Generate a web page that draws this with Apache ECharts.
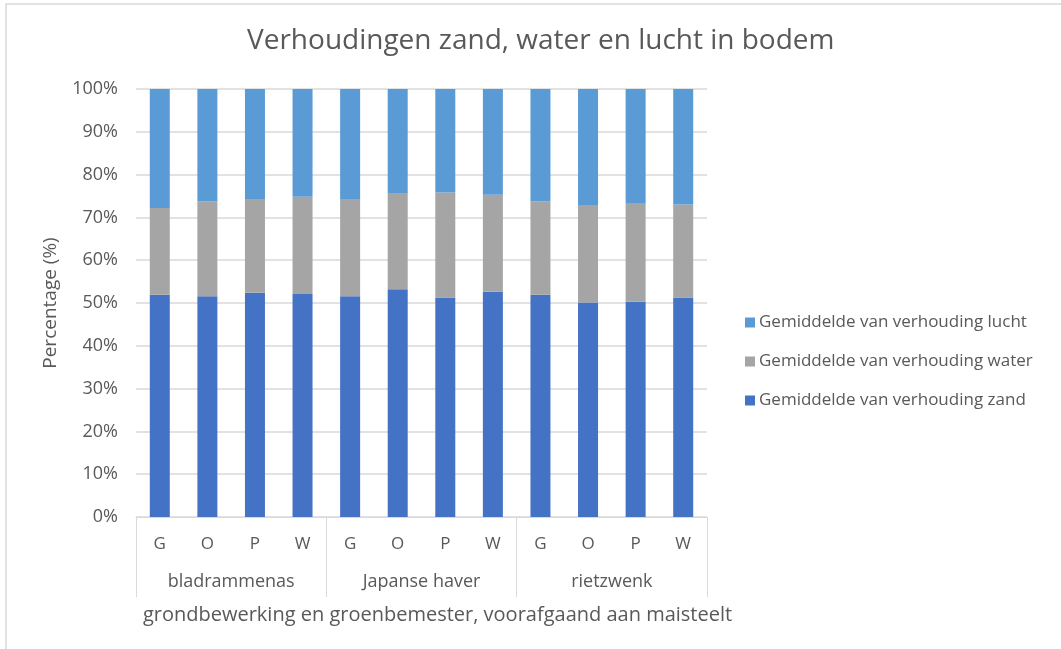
<!DOCTYPE html>
<html>
<head>
<meta charset="utf-8">
<script src="https://cdn.jsdelivr.net/npm/echarts@6/dist/echarts.min.js"></script>
<style>
  html, body { margin: 0; padding: 0; background: #fff; }
  #main { width: 1061px; height: 649px; }
</style>
</head>
<body>
<div id="main"></div>
<script>
// treatments per crop, and crop groups
const treatments = ['G', 'O', 'P', 'W', 'G', 'O', 'P', 'W', 'G', 'O', 'P', 'W'];
const crops = ['bladrammenas', 'Japanse haver', 'rietzwenk'];

// mean shares in %
const zand = [51.9, 51.6, 52.4, 52.1, 51.6, 53.2, 51.3, 52.6, 51.9, 50.1, 50.3, 51.3];
const water = [20.3, 22.2, 21.7, 22.7, 22.5, 22.3, 24.5, 22.7, 21.9, 22.6, 22.9, 21.7];
const lucht = [27.8, 26.2, 25.9, 25.2, 25.9, 24.5, 24.2, 24.7, 26.2, 27.3, 26.8, 27.0];

const seriesNames = [
    'Gemiddelde van verhouding zand',
    'Gemiddelde van verhouding water',
    'Gemiddelde van verhouding lucht'
];

const font = 'Open Sans';
const txt = '#595959';
const gridCol = '#d9d9d9';

const chart = echarts.init(document.getElementById('main'));

chart.setOption({
    animation: false,
    textStyle: {fontFamily: font},
    title: {
        text: 'Verhoudingen zand, water en lucht in bodem',
        left: 242,
        top: 22,
        textStyle: {fontFamily: font, fontSize: 28, fontWeight: 'normal', color: txt}
    },
    graphic: [{
        type: 'rect',
        shape: {x: 6, y: 4, width: 1200, height: 800},
        style: {fill: 'none', stroke: gridCol, lineWidth: 1.5},
        silent: true
    }],
    legend: {
        orient: 'vertical',
        left: 740,
        top: 309,
        itemWidth: 10,
        itemHeight: 10,
        itemGap: 22,
        icon: 'rect',
        data: [seriesNames[2], seriesNames[1], seriesNames[0]],
        textStyle: {fontFamily: font, fontSize: 17, color: txt, padding: [0, 0, 0, -1]}
    },
    grid: {left: 136, right: 354, top: 89, bottom: 132},
    xAxis: [{
        type: 'category',
        data: treatments,
        axisLine: {lineStyle: {color: gridCol}},
        axisTick: {show: false},
        axisLabel: {margin: 19, fontFamily: font, fontSize: 17, color: txt}
    }, {
        type: 'category',
        data: crops,
        position: 'bottom',
        axisLine: {show: false},
        axisTick: {show: true, length: 80, interval: 0, lineStyle: {color: gridCol}},
        axisLabel: {margin: 56, fontFamily: font, fontSize: 18, color: txt},
        name: 'grondbewerking en groenbemester, voorafgaand aan maisteelt',
        nameLocation: 'middle',
        nameGap: 88,
        nameTextStyle: {fontFamily: font, fontSize: 20, color: txt, padding: [0, 0, 0, 32]}
    }],
    yAxis: {
        type: 'value',
        min: 0,
        max: 100,
        interval: 10,
        name: 'Percentage (%)',
        nameLocation: 'middle',
        nameGap: 76,
        nameTextStyle: {fontFamily: font, fontSize: 19, color: txt},
        axisLine: {show: false},
        axisTick: {show: false},
        axisLabel: {formatter: '{value}%', margin: 18, fontFamily: font, fontSize: 18, color: txt},
        splitLine: {lineStyle: {color: gridCol, width: 1.5}}
    },
    series: [
        {name: seriesNames[0], type: 'bar', stack: 'tot', barWidth: 20, data: zand, itemStyle: {color: '#4472C4'}},
        {name: seriesNames[1], type: 'bar', stack: 'tot', barWidth: 20, data: water, itemStyle: {color: '#A5A5A5'}},
        {name: seriesNames[2], type: 'bar', stack: 'tot', barWidth: 20, data: lucht, itemStyle: {color: '#5B9BD5'}}
    ]
});
</script>
</body>
</html>
